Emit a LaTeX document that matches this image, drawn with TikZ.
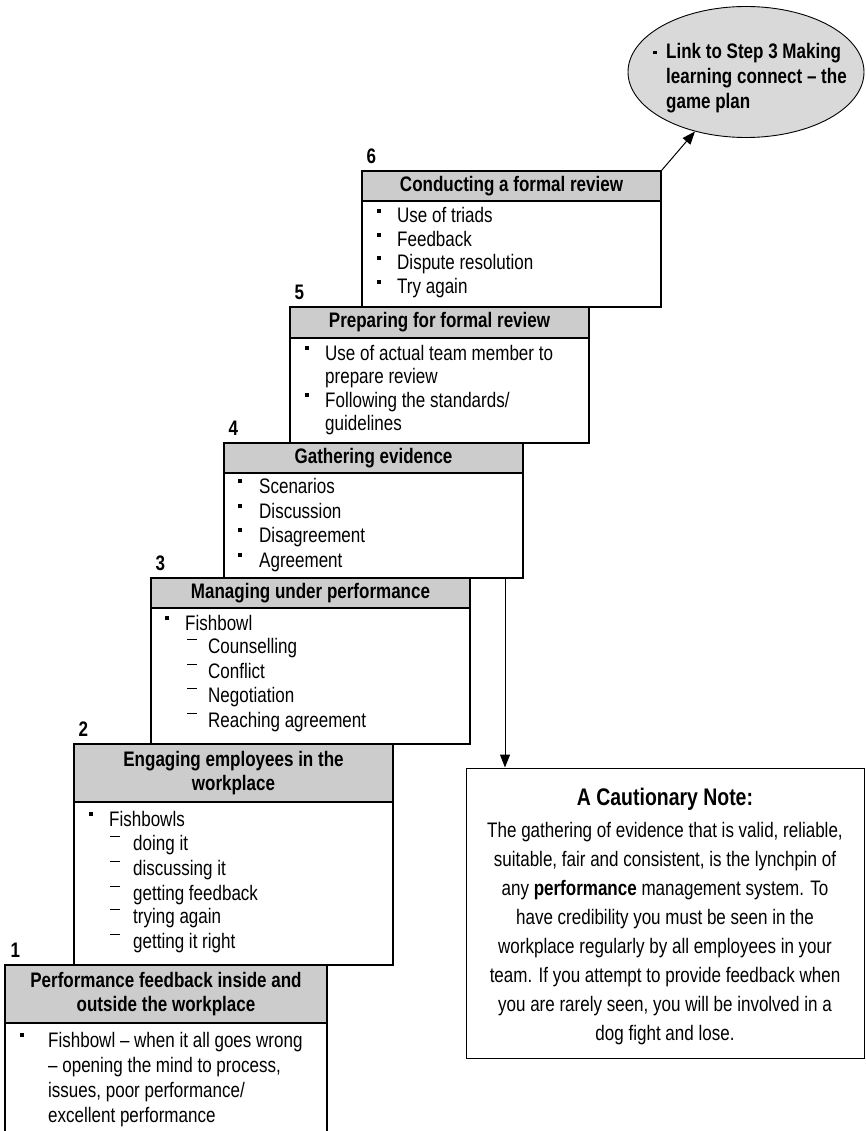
\documentclass[tikz,border=0pt]{standalone}
\usepackage{fontspec}
\setmainfont{Liberation Sans}[FakeStretch=0.81]
\usetikzlibrary{arrows.meta,shapes.geometric}
\newcommand{\sqb}{\rule[10pt]{3.5pt}{4pt}}
\newcommand{\dsh}{\rule[13pt]{10pt}{1pt}}
\begin{document}
\begin{tikzpicture}[x=1pt, y=-1pt,
    every node/.style={inner sep=0pt, font=\fontsize{21}{24}\selectfont},
    head/.style={draw, fill=gray!40, line width=1.4pt, align=center,
        font=\fontsize{21}{24}\selectfont\bfseries},
    body/.style={draw, fill=white, line width=1.4pt},
    num/.style={anchor=base, font=\fontsize{21}{24}\selectfont\bfseries},
    item/.style={anchor=base west},
    arr/.style={-{Triangle[length=13pt,width=10pt]}, line width=1pt}]
    \useasboundingbox (0,0) rectangle (866,1131);
    % 6
    \draw [body] (362,201) rectangle (661,307);
    \node [head, minimum width=299pt, minimum height=30pt] (h6) at (511.5,186) {Conducting a formal review};
    \node [num] (n6) at ([xshift=10pt, yshift=7pt]h6.north west) {6};
    \node [item] (i6a) at (377,223) {\makebox[20pt][l]{\sqb}Use of triads};
    \node [item] (i6b) at (377,247) {\makebox[20pt][l]{\sqb}Feedback};
    \node [item] (i6c) at (377,270) {\makebox[20pt][l]{\sqb}Dispute resolution};
    \node [item] (i6d) at (377,294) {\makebox[20pt][l]{\sqb}Try again};
    % 5
    \draw [body] (290,338) rectangle (589,443);
    \node [head, minimum width=299pt, minimum height=31pt] (h5) at (439.5,322.5) {Preparing for formal review};
    \node [num] (n5) at ([xshift=10pt, yshift=7pt]h5.north west) {5};
    \node [item] (i5a) at (305,360) {\makebox[20pt][l]{\sqb}Use of actual team member to};
    \node [item] (i5b) at (325,383) {prepare review};
    \node [item] (i5c) at (305,407) {\makebox[20pt][l]{\sqb}Following the standards/};
    \node [item] (i5d) at (325,430) {guidelines};
    % 4
    \draw [body] (224,473) rectangle (523,578);
    \node [head, minimum width=299pt, minimum height=30pt] (h4) at (373.5,458) {Gathering evidence};
    \node [num] (n4) at ([xshift=10pt, yshift=7pt]h4.north west) {4};
    \node [item] (i4a) at (238,493) {\makebox[21pt][l]{\sqb}Scenarios};
    \node [item] (i4b) at (238,518) {\makebox[21pt][l]{\sqb}Discussion};
    \node [item] (i4c) at (238,542) {\makebox[21pt][l]{\sqb}Disagreement};
    \node [item] (i4d) at (238,567) {\makebox[21pt][l]{\sqb}Agreement};
    % 3
    \draw [body] (151,608) rectangle (470,744);
    \node [head, minimum width=319pt, minimum height=30pt] (h3) at (310.5,593) {Managing under performance};
    \node [num] (n3) at ([xshift=10pt, yshift=7pt]h3.north west) {3};
    \node [item] (i3a) at (165,630) {\makebox[20pt][l]{\sqb}Fishbowl};
    \node [item] (i3b) at (187,653) {\makebox[21pt][l]{\dsh}Counselling};
    \node [item] (i3c) at (187,678) {\makebox[21pt][l]{\dsh}Conflict};
    \node [item] (i3d) at (187,702) {\makebox[21pt][l]{\dsh}Negotiation};
    \node [item] (i3e) at (187,727) {\makebox[21pt][l]{\dsh}Reaching agreement};
    % 2
    \draw [body] (74,802) rectangle (393,965);
    \node [head, minimum width=319pt, minimum height=58pt] (h2) at (233.5,773) {Engaging employees in the\\workplace};
    \node [num] (n2) at ([xshift=10pt, yshift=7pt]h2.north west) {2};
    \node [item] (i2a) at (89,826) {\makebox[20pt][l]{\sqb}Fishbowls};
    \node [item] (i2b) at (110,850) {\makebox[23pt][l]{\dsh}doing it};
    \node [item] (i2c) at (110,875) {\makebox[23pt][l]{\dsh}discussing it};
    \node [item] (i2d) at (110,900) {\makebox[23pt][l]{\dsh}getting feedback};
    \node [item] (i2e) at (110,923) {\makebox[23pt][l]{\dsh}trying again};
    \node [item] (i2f) at (110,948) {\makebox[23pt][l]{\dsh}getting it right};
    % 1
    \draw [line width=1.4pt] (5,1131) -- (5,1023) -- (327,1023) -- (327,1131);
    \node [head, minimum width=322pt, minimum height=58pt] (h1) at (166,994) {Performance feedback inside and\\outside the workplace};
    \node [num] (n1) at ([xshift=11pt, yshift=7pt]h1.north west) {1};
    \node [item] (i1a) at (20,1047) {\makebox[28pt][l]{\sqb}Fishbowl -- when it all goes wrong};
    \node [item] (i1b) at (48,1072) {-- opening the mind to process,};
    \node [item] (i1c) at (48,1097) {issues, poor performance/};
    \node [item] (i1d) at (48,1122) {excellent performance};
    % link to step 3
    \node [draw, ellipse, fill=gray!30, line width=0.9pt, minimum width=236pt, minimum height=131pt] (link) at (746,72) {};
    \node [item, font=\fontsize{21}{24}\selectfont\bfseries] (l1) at (653,59) {\makebox[13pt][l]{\rule[4.5pt]{3.5pt}{3.5pt}}Link to Step 3 Making};
    \node [item, font=\fontsize{21}{24}\selectfont\bfseries] (l2) at (666,84) {learning connect -- the};
    \node [item, font=\fontsize{21}{24}\selectfont\bfseries] (l3) at (666,109) {game plan};
    \draw [arr] (h6.north east) -- (link);
    % cautionary note
    \node [draw, line width=1pt, minimum width=398pt, minimum height=290pt] (note) at (665,913) {};
    \node [anchor=base, font=\fontsize{24}{28}\selectfont\bfseries] (title) at (665,805) {A Cautionary Note:};
    \node [anchor=north, align=center, font=\fontsize{21}{29}\selectfont] (para) at (665,821.7) {The gathering of evidence that is valid, reliable,\\
        suitable, fair and consistent, is the lynchpin of\\
        any \textbf{performance} management system. To\\
        have credibility you must be seen in the\\
        workplace regularly by all employees in your\\
        team. If you attempt to provide feedback when\\
        you are rarely seen, you will be involved in a\\
        dog fight and lose.};
    \coordinate (g4) at (505,578);
    \draw [arr] (g4) -- (g4 |- note.north);
\end{tikzpicture}
\end{document}
